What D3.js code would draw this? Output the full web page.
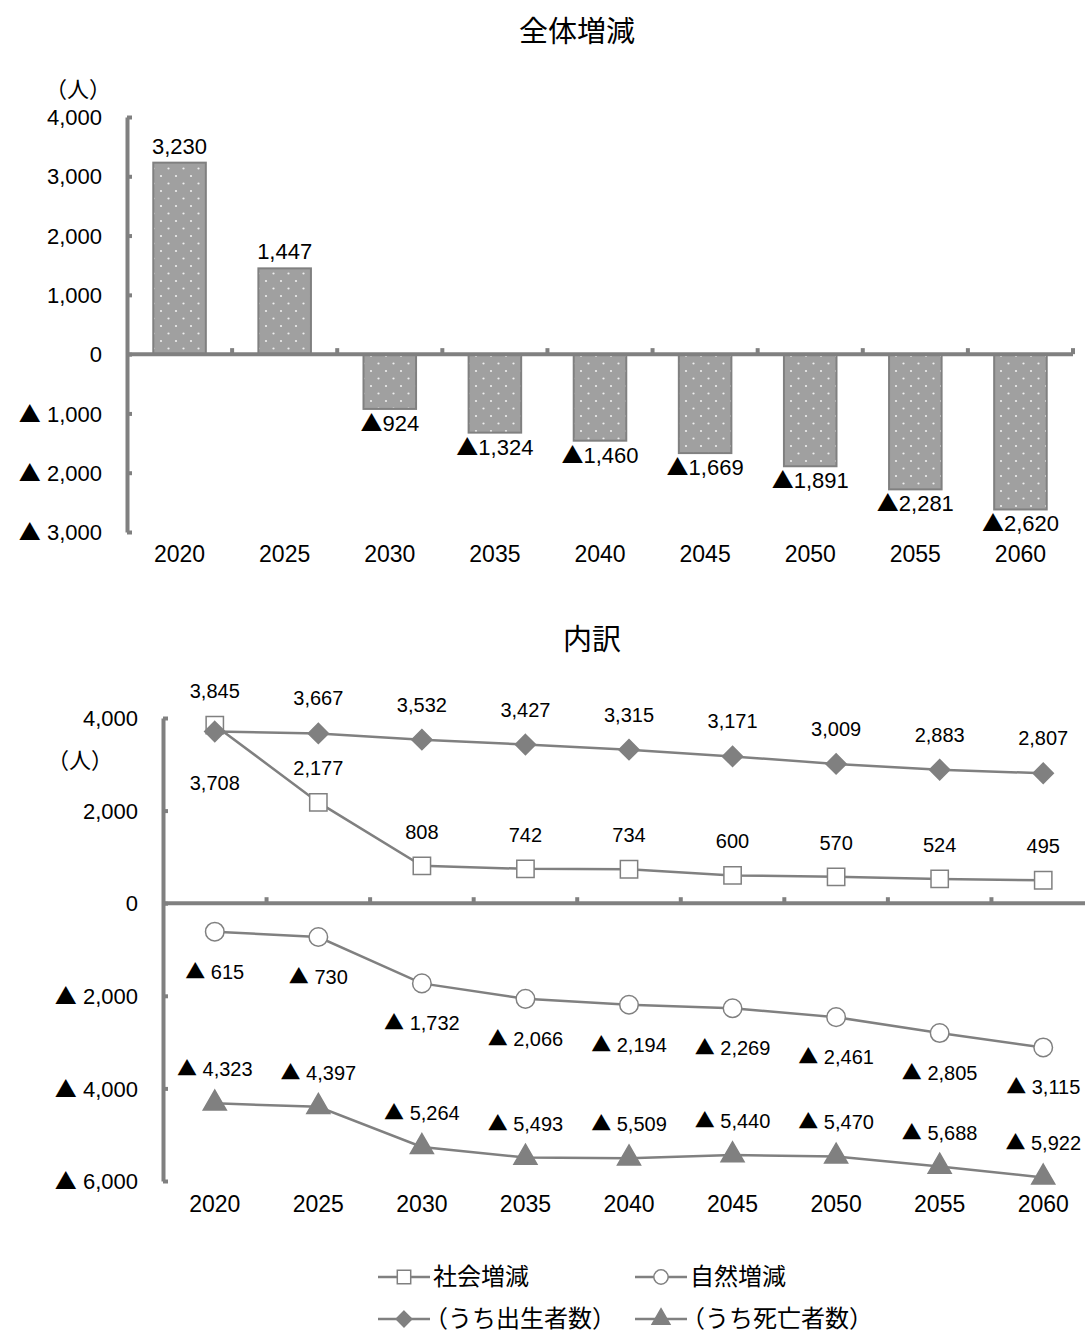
<!DOCTYPE html>
<html>
<head>
<meta charset="utf-8">
<script src="https://cdn.jsdelivr.net/npm/d3@7"></script>
<style>
  body { margin: 0; background: #fff; }
  svg text { font-family: "Liberation Sans", Arial, "Noto Sans CJK JP", sans-serif; fill: #000; }
  svg text.jp, svg tspan.tri { font-family: "Noto Sans CJK JP", sans-serif; }
</style>
</head>
<body>
<svg id="chart" width="1085" height="1336"></svg>
<script>
// data
const years = ["2020", "2025", "2030", "2035", "2040", "2045", "2050", "2055", "2060"];
const totalChange = [3230, 1447, -924, -1324, -1460, -1669, -1891, -2281, -2620];
const socialChange = [3845, 2177, 808, 742, 734, 600, 570, 524, 495];
const naturalChange = [-615, -730, -1732, -2066, -2194, -2269, -2461, -2805, -3115];
const births = [3708, 3667, 3532, 3427, 3315, 3171, 3009, 2883, 2807];
const deaths = [-4323, -4397, -5264, -5493, -5509, -5440, -5470, -5688, -5922];
const topTicks = [4000, 3000, 2000, 1000, 0, -1000, -2000, -3000];
const bottomTicks = [4000, 2000, 0, -2000, -4000, -6000];

const grey = "#808080";
const svg = d3.select("#chart");
const fmt = d3.format(",");

// writes a number into a text node; negatives get a big CJK triangle in front
function numText(sel, sep) {
  sel.each(function (d) {
    let t = d3.select(this).text("");
    if (d < 0) {
      t.append("tspan").attr("class", "tri").text("▲");
      t.append("tspan").text(sep + fmt(-d));
    } else {
      t.append("tspan").text(fmt(d));
    }
  });
}

// dotted fill for the bars
let defs = svg.append("defs");
let pat = defs.append("pattern")
  .attr("id", "dots")
  .attr("patternUnits", "userSpaceOnUse")
  .attr("width", 15).attr("height", 15);
pat.append("rect").attr("width", 15).attr("height", 15).attr("fill", "#a0a0a0");
pat.append("circle").attr("cx", 3.5).attr("cy", 3.5).attr("r", 1.1).attr("fill", "#eeeeee");
pat.append("circle").attr("cx", 11).attr("cy", 11).attr("r", 1.1).attr("fill", "#eeeeee");

// ---------- top chart: 全体増減 ----------
let x1 = d3.scaleBand().domain(years).range([127, 1073]).paddingInner(0.5).paddingOuter(0.25);
let y1 = d3.scaleLinear().domain([-3000, 4000]).range([532, 117]);

svg.append("text")
  .attr("class", "jp")
  .attr("x", 577).attr("y", 42)
  .attr("text-anchor", "middle")
  .style("font-size", "29px")
  .text("全体増減");

svg.append("text")
  .attr("x", 78).attr("y", 97)
  .attr("text-anchor", "middle")
  .style("font-size", "22px")
  .text("（人）");

svg.append("g").selectAll("rect")
  .data(totalChange)
  .join("rect")
  .attr("x", (d, i) => x1(years[i]))
  .attr("width", x1.bandwidth())
  .attr("y", d => y1(Math.max(d, 0)))
  .attr("height", d => Math.abs(y1(d) - y1(0)))
  .attr("fill", "url(#dots)")
  .attr("stroke", grey)
  .attr("stroke-width", 2);

// bar labels
svg.append("g").selectAll("text")
  .data(totalChange)
  .join("text")
  .attr("x", (d, i) => x1(years[i]) + x1.bandwidth() / 2)
  .attr("y", d => d >= 0 ? y1(d) - 9 : y1(d) + 22)
  .attr("text-anchor", "middle")
  .style("font-size", "22px")
  .call(numText, "");

// y axis (ticks point inward)
let yAxis1 = svg.append("g")
  .attr("transform", "translate(127,0)")
  .call(d3.axisLeft(y1).tickValues(topTicks).tickSizeInner(-5).tickSizeOuter(0).tickPadding(25));
yAxis1.select(".domain").attr("stroke", grey).attr("stroke-width", 4);
yAxis1.selectAll(".tick line").attr("stroke", grey).attr("stroke-width", 4);
yAxis1.selectAll(".tick text").style("font-size", "22px").attr("dy", "0.35em").call(numText, " ");

// zero line with category boundary ticks
svg.append("line")
  .attr("x1", 127).attr("x2", x1.range()[1])
  .attr("y1", y1(0)).attr("y2", y1(0))
  .attr("stroke", grey).attr("stroke-width", 4);
svg.append("g").selectAll("line")
  .data(years)
  .join("line")
  .attr("x1", d => x1(d) + x1.bandwidth() / 2 + x1.step() / 2)
  .attr("x2", d => x1(d) + x1.bandwidth() / 2 + x1.step() / 2)
  .attr("y1", y1(0)).attr("y2", y1(0) - 6)
  .attr("stroke", grey).attr("stroke-width", 4);

// category labels at the bottom
svg.append("g").selectAll("text")
  .data(years)
  .join("text")
  .attr("x", d => x1(d) + x1.bandwidth() / 2)
  .attr("y", 562)
  .attr("text-anchor", "middle")
  .style("font-size", "23px")
  .text(d => d);

// ---------- bottom chart: 内訳 ----------
let x2 = d3.scalePoint().domain(years).range([163, 1095]).padding(0.5);
let y2 = d3.scaleLinear().domain([-6000, 4000]).range([1181, 718]);

svg.append("text")
  .attr("class", "jp")
  .attr("x", 592).attr("y", 650)
  .attr("text-anchor", "middle")
  .style("font-size", "29px")
  .text("内訳");

svg.append("text")
  .attr("x", 80).attr("y", 768)
  .attr("text-anchor", "middle")
  .style("font-size", "22px")
  .text("（人）");

let yAxis2 = svg.append("g")
  .attr("transform", "translate(163,0)")
  .call(d3.axisLeft(y2).tickValues(bottomTicks).tickSizeInner(-5).tickSizeOuter(0).tickPadding(25));
yAxis2.select(".domain").attr("stroke", grey).attr("stroke-width", 4);
yAxis2.selectAll(".tick line").attr("stroke", grey).attr("stroke-width", 4);
yAxis2.selectAll(".tick text").style("font-size", "22px").attr("dy", "0.35em").call(numText, " ");

svg.append("line")
  .attr("x1", 163).attr("x2", x2.range()[1])
  .attr("y1", y2(0)).attr("y2", y2(0))
  .attr("stroke", grey).attr("stroke-width", 4);
svg.append("g").selectAll("line")
  .data(years.slice(0, -1))
  .join("line")
  .attr("x1", d => x2(d) + x2.step() / 2)
  .attr("x2", d => x2(d) + x2.step() / 2)
  .attr("y1", y2(0)).attr("y2", y2(0) - 6)
  .attr("stroke", grey).attr("stroke-width", 4);

svg.append("g").selectAll("text")
  .data(years)
  .join("text")
  .attr("x", d => x2(d))
  .attr("y", 1212)
  .attr("text-anchor", "middle")
  .style("font-size", "23px")
  .text(d => d);

// marker shapes
const markers = {
  square: { type: d3.symbolSquare, size: 300, fill: "#fff" },
  circle: { type: d3.symbolCircle, size: 270, fill: "#fff" },
  diamond: { type: d3.symbolDiamond2, size: 260, fill: grey },
  triangle: { type: d3.symbolTriangle, size: 230, fill: grey }
};

// label offset: negative = above the marker, positive = below
const series = [
  { name: "社会増減", values: socialChange, marker: "square", offset: v => -27 },
  { name: "自然増減", values: naturalChange, marker: "circle", offset: v => 47 },
  { name: "（うち出生者数）", values: births, marker: "diamond", offset: (v, i) => i === 0 ? 58 : -28 },
  { name: "（うち死亡者数）", values: deaths, marker: "triangle", offset: v => -27 }
];

let line = d3.line().x((d, i) => x2(years[i])).y(d => y2(d));

series.forEach(function (s) {
  let g = svg.append("g");
  g.append("path")
    .attr("d", line(s.values))
    .attr("fill", "none")
    .attr("stroke", grey)
    .attr("stroke-width", 2.5);
  let m = markers[s.marker];
  g.selectAll("path.mk")
    .data(s.values)
    .join("path")
    .attr("class", "mk")
    .attr("d", d3.symbol().type(m.type).size(m.size))
    .attr("transform", (d, i) => "translate(" + x2(years[i]) + "," + y2(d) + ")")
    .attr("fill", m.fill)
    .attr("stroke", grey)
    .attr("stroke-width", 1.5);
  g.selectAll("text")
    .data(s.values)
    .join("text")
    .attr("x", (d, i) => x2(years[i]))
    .attr("y", (d, i) => y2(d) + s.offset(d, i))
    .attr("text-anchor", "middle")
    .style("font-size", "20px")
    .call(numText, " ");
});

// legend (two rows, two columns)
let legendPos = [[378, 1277], [635, 1277], [378, 1319], [635, 1319]];
series.forEach(function (s, i) {
  let lx = legendPos[i][0], ly = legendPos[i][1];
  let g = svg.append("g").attr("transform", "translate(" + lx + "," + ly + ")");
  g.append("line").attr("x1", 0).attr("x2", 52).attr("y1", 0).attr("y2", 0)
    .attr("stroke", grey).attr("stroke-width", 2.5);
  let m = markers[s.marker];
  g.append("path")
    .attr("d", d3.symbol().type(m.type).size(m.size * 0.6))
    .attr("transform", "translate(26,0)")
    .attr("fill", m.fill)
    .attr("stroke", grey)
    .attr("stroke-width", 1.5);
  g.append("text")
    .attr("class", "jp")
    .attr("x", s.name.startsWith("（") ? 46 : 55)
    .attr("y", 8)
    .style("font-size", "24px")
    .text(s.name);
});
</script>
</body>
</html>
